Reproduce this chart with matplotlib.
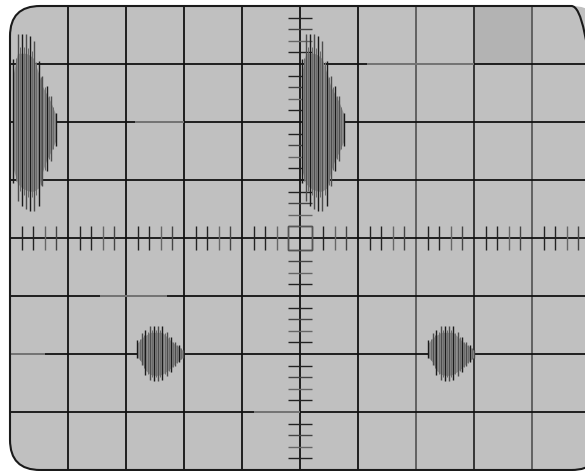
import numpy as np
from matplotlib import pyplot as plt
from matplotlib.patches import FancyBboxPatch, Rectangle

# screen is 10 x 8 divisions, centred on (0, 0)
grid_x = [-4, -3, -2, -1, 0, 1, 2, 3, 4]
grid_y = [-3, -2, -1, 0, 1, 2, 3]
grid_x_colors = ['#111111', '#111111', '#111111', '#111111', '#111111',
                 '#111111', '#5a5a5a', '#2a2a2a', '#5a5a5a']

# lighter patches on some grid lines (orientation, position, start, end)
light_segments = [('h', 2, -2.85, -2.0), ('h', 3, 1.15, 3.0), ('h', -1, -3.45, -2.3),
                  ('h', -2, -5.0, -4.4), ('h', -3, -0.8, 0.0)]

highlight_cell = (3, 3)  # lower-left corner of the darker square

# upper trace: one burst per 5 divisions, decaying to the right
upper_starts = [-4.97, 0.0]
upper_level = 2.0
upper_offsets = [0.03, 0.10, 0.17, 0.24, 0.31, 0.38, 0.47, 0.53, 0.60, 0.67, 0.76]
upper_tops = [1.09, 1.52, 1.52, 1.52, 1.48, 1.40, 1.05, 0.79, 0.62, 0.45, 0.16]
upper_bottoms = [1.05, 1.36, 1.45, 1.50, 1.53, 1.53, 1.45, 1.10, 0.84, 0.67, 0.41]

# lower trace: small diamond shaped bursts
lower_starts = [-2.845, 2.17]
lower_level = -2.0
lower_offsets = [0.04, 0.12, 0.18, 0.26, 0.33, 0.40, 0.47, 0.55, 0.62, 0.69, 0.76, 0.83]
lower_tops = [0.24, 0.36, 0.41, 0.48, 0.48, 0.48, 0.48, 0.38, 0.29, 0.21, 0.16, 0.07]
lower_bottoms = [0.07, 0.19, 0.36, 0.45, 0.47, 0.47, 0.45, 0.38, 0.31, 0.21, 0.14, 0.07]

minor_step = 0.2
tick_half = 0.2

fig = plt.figure(figsize=(5.85, 4.71), dpi=100)
ax = fig.add_axes([0, 0, 1, 1])
ax.set_xlim(-300 / 58, 285 / 58)
ax.set_ylim(-233 / 58, 238 / 58)
ax.axis('off')

box_w = 10.2
screen = FancyBboxPatch((-5, -4), box_w, 8, boxstyle='round,pad=0,rounding_size=0.52',
                        facecolor='#c0c0c0', edgecolor='none', zorder=0)
ax.add_patch(screen)
ax.add_patch(Rectangle(highlight_cell, 1, 1, facecolor='#b3b3b3', edgecolor='none', zorder=1))

# grid
for gx, c in zip(grid_x, grid_x_colors):
    ax.vlines(gx, -4, 4, color=c, linewidth=1.3, zorder=2)
ax.hlines(grid_y, -5, 5.2, color='#111111', linewidth=1.3, zorder=2)
for kind, pos, a, b in light_segments:
    if kind == 'h':
        ax.hlines(pos, a, b, color='#777777', linewidth=1.4, zorder=2.1)
    else:
        ax.vlines(pos, a, b, color='#777777', linewidth=1.4, zorder=2.1)

# minor ticks on the centre axes
xt = np.arange(-5, 5.001, minor_step)
xt = xt[np.abs(xt - np.round(xt)) > 1e-6]
yt = np.arange(-4, 4.001, minor_step)
yt = yt[np.abs(yt - np.round(yt)) > 1e-6]
tick_cols = ['#222222', '#222222', '#666666', '#444444']
for i, t in enumerate(xt):
    ax.vlines(t, -tick_half, tick_half, color=tick_cols[i % 4], linewidth=1.0, zorder=2)
for i, t in enumerate(yt):
    ax.hlines(t, -tick_half, tick_half, color=tick_cols[(i + 1) % 4], linewidth=1.0, zorder=2)
ax.add_patch(Rectangle((-tick_half, -tick_half), 2 * tick_half, 2 * tick_half,
                       facecolor='none', edgecolor='#555555', linewidth=1.0, zorder=2))


def draw_burst(start, level, offsets, tops, bottoms):
    x = start + np.array(offsets)
    tops = np.array(tops)
    bottoms = np.array(bottoms)
    # grey glow of the trace, a bit narrower than the strokes
    ax.fill_between(x, level - 0.78 * bottoms, level + 0.78 * tops,
                    color='#8e8e8e', linewidth=0, zorder=3)
    cols = ['#1a1a1a' if i % 2 == 0 else '#4c4c4c' for i in range(len(x))]
    ax.vlines(x, level - bottoms, level + tops, colors=cols, linewidth=1.0, zorder=3.1)
    xm = (x[:-1] + x[1:]) / 2
    ax.vlines(xm, level - 0.85 * (bottoms[:-1] + bottoms[1:]) / 2,
              level + 0.85 * (tops[:-1] + tops[1:]) / 2,
              color='#6a6a6a', linewidth=0.7, zorder=3.05)


for s in upper_starts:
    draw_burst(s, upper_level, upper_offsets, upper_tops, upper_bottoms)
for s in lower_starts:
    draw_burst(s, lower_level, lower_offsets, lower_tops, lower_bottoms)

border = FancyBboxPatch((-5, -4), box_w, 8, boxstyle='round,pad=0,rounding_size=0.52',
                        facecolor='none', edgecolor='#1a1a1a', linewidth=1.5, zorder=4)
ax.add_patch(border)

fig.savefig('out.png', dpi=100)
